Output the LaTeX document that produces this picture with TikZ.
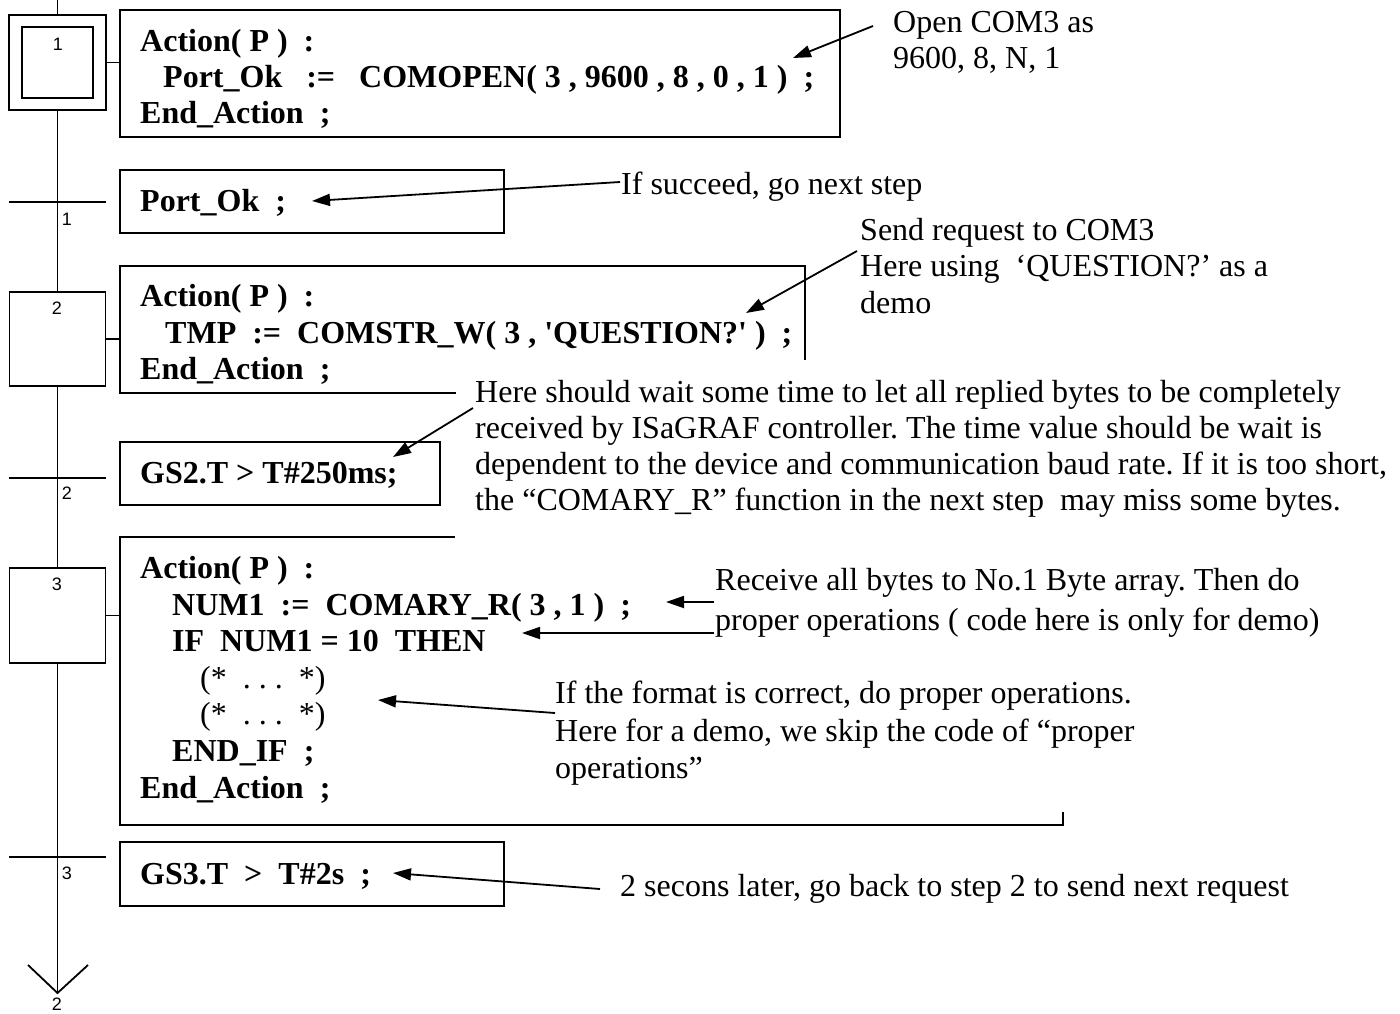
\documentclass[tikz,border=0pt]{standalone}
\usepackage{fontspec}
\setmainfont{Liberation Serif}
\setsansfont{Liberation Sans}
\newfontfamily\codefont{Liberation Serif}
\usetikzlibrary{arrows.meta}
\frenchspacing
\tikzset{
  ln/.style={line width=1.8pt},
  stepbox/.style={draw, line width=1.8pt, inner sep=0, minimum width=96pt, minimum height=94pt},
  tbox/.style={draw, line width=1.8pt, inner sep=0},
  code/.style={font=\codefont\bfseries\fontsize{32}{36}\selectfont, anchor=base west, inner sep=0},
  codep/.style={font=\codefont\fontsize{32}{36}\selectfont, anchor=base west, inner sep=0},
  cmt/.style={font=\fontsize{32}{36}\selectfont, anchor=base west, inner sep=0},
  lbl/.style={font=\sffamily\fontsize{18}{18}\selectfont, inner sep=0},
  arr/.style={line width=1.8pt, -{Triangle[length=18pt,width=12pt]}},
}
\begin{document}
\begin{tikzpicture}[x=1pt,y=-1pt]
\frenchspacing
\useasboundingbox (0,0) rectangle (1400,1013);
% steps
\node[stepbox, minimum width=97pt, minimum height=95pt] (s1o) at (57.5,62.5) {};
\node[stepbox, minimum width=71pt, minimum height=71pt] (s1i) at (57.5,62.5) {};
\node[stepbox] (s2) at (57.5,339) {};
\node[stepbox, minimum height=95pt] (s3) at (57.5,615.5) {};
\node[lbl] (l1) at (58,44) {1};
\node[lbl] (l2) at (57,308) {2};
\node[lbl] (l3) at (57,584) {3};
% main line
\coordinate (top) at (57.5,0);
\coordinate (tip) at (57.5,993);
\coordinate (vl) at (28,965);
\coordinate (vr) at (88,965);
\draw[ln] (top) -- (s1o.north);
\draw[ln] (s1o.south) -- (s2.north);
\draw[ln] (s2.south) -- (s3.north);
\draw[ln] (s3.south) -- (tip);
\draw[ln] (vl) -- (tip) -- (vr);
\node[lbl] (l4) at (57,1004) {2};
% transitions
\coordinate (t1a) at (9,202); \coordinate (t1b) at (106,202);
\coordinate (t2a) at (9,478); \coordinate (t2b) at (106,478);
\coordinate (t3a) at (9,857); \coordinate (t3b) at (106,857);
\draw[ln] (t1a) -- (t1b);
\draw[ln] (t2a) -- (t2b);
\draw[ln] (t3a) -- (t3b);
\node[lbl] (tl1) at (67,219) {1};
\node[lbl] (tl2) at (67,493) {2};
\node[lbl] (tl3) at (67,873) {3};
% action box 1
\node[tbox, minimum width=720pt, minimum height=127pt] (a1) at (480,73.5) {};
\draw[ln] (s1o.east) -- (s1o.east -| a1.west);
\node[code] (c1a) at (140,51) {Action( P )\ \ :};
\node[code] (c1b) at (163,87) {Port\_Ok\ \ \ :=\ \ \ COMOPEN( 3 , 9600 , 8 , 0 , 1 )\ \ ;};
\node[code] (c1c) at (140,123) {End\_Action\ \ ;};
% transition box 1
\node[tbox, minimum width=384pt, minimum height=63pt] (b1) at (312,201.5) {};
\node[code] (d1) at (140,211) {Port\_Ok\ \ ;};
% action box 2 (partial frame)
\coordinate (a2r) at (805,360); \coordinate (a2tr) at (805,266);
\coordinate (a2tl) at (120,266); \coordinate (a2bl) at (120,393);
\coordinate (a2br) at (456,393);
\draw[ln] (a2r) -- (a2tr) -- (a2tl) -- (a2bl) -- (a2br);
\draw[ln] (s2.east) -- (s2.east -| a2tl);
\node[code] (c2a) at (140,306) {Action( P )\ \ :};
\node[code] (c2b) at (165,343) {TMP\ \ :=\ \ COMSTR\_W( 3 , 'QUESTION?' )\ \ ;};
\node[code] (c2c) at (140,379) {End\_Action\ \ ;};
% transition box 2
\node[tbox, minimum width=320pt, minimum height=63pt] (b2) at (280,473.5) {};
\node[code] (d2) at (140,483) {GS2.T > T\#250ms;};
% action box 3 (partial frame)
\coordinate (a3tr) at (455,537); \coordinate (a3tl) at (120,537);
\coordinate (a3bl) at (120,825); \coordinate (a3br) at (1063,825);
\coordinate (a3k) at (1063,812);
\draw[ln] (a3tr) -- (a3tl) -- (a3bl) -- (a3br) -- (a3k);
\draw[ln] (s3.east) -- (s3.east -| a3tl);
\node[code] (c3a) at (140,578) {Action( P )\ \ :};
\node[code] (c3b) at (172,615) {NUM1\ \ :=\ \ COMARY\_R( 3 , 1 )\ \ ;};
\node[code] (c3c) at (172,651) {IF\ \ NUM1 = 10\ \ THEN};
\node[codep] (c3d) at (200,688) {(*\ \ . . .\ \ *)};
\node[codep] (c3e) at (200,724) {(*\ \ . . .\ \ *)};
\node[code] (c3f) at (172,761) {END\_IF\ \ ;};
\node[code] (c3g) at (140,798) {End\_Action\ \ ;};
% transition box 3
\node[tbox, minimum width=384pt, minimum height=64pt] (b3) at (312,874) {};
\node[code] (d3) at (140,884) {GS3.T\ \ >\ \ T\#2s\ \ ;};
% comments
\node[cmt] (m1a) at (893,32) {Open COM3 as};
\node[cmt] (m1b) at (893,68) {9600, 8, N, 1};
\node[cmt] (m2) at (621,194) {If succeed, go next step};
\node[cmt] (m3a) at (860,240) {Send request to COM3};
\node[cmt] (m3b) at (860,276) {Here using\ \ ‘QUESTION?’ as a};
\node[cmt] (m3c) at (860,313) {demo};
\node[cmt] (m4a) at (475,402) {Here should wait some time to let all replied bytes to be completely};
\node[cmt] (m4b) at (475,438) {received by ISaGRAF controller. The time value should be wait is};
\node[cmt] (m4c) at (475,474) {dependent to the device and communication baud rate. If it is too short,};
\node[cmt] (m4d) at (475,510) {the “COMARY\_R” function in the next step\ \ may miss some bytes.};
\node[cmt] (m5a) at (715,590) {Receive all bytes to No.1 Byte array. Then do};
\node[cmt] (m5b) at (715,630) {proper operations ( code here is only for demo)};
\node[cmt] (m6a) at (555,703) {If the format is correct, do proper operations.};
\node[cmt] (m6b) at (555,741) {Here for a demo, we skip the code of “proper};
\node[cmt] (m6c) at (555,778) {operations”};
\node[cmt] (m7) at (620,896) {2 secons later, go back to step 2 to send next request};
% arrows
\coordinate (p1s) at (873,26); \coordinate (p1t) at (793,58);
\draw[arr] (p1s) -- (p1t);
\coordinate (p2s) at (620,182); \coordinate (p2t) at (312,201);
\draw[arr] (p2s) -- (p2t);
\coordinate (p3s) at (857,251); \coordinate (p3t) at (746,313);
\draw[arr] (p3s) -- (p3t);
\coordinate (p4s) at (473,408); \coordinate (p4t) at (393,457);
\draw[arr] (p4s) -- (p4t);
\coordinate (p5s) at (714,602); \coordinate (p5t) at (666,602);
\draw[arr] (p5s) -- (p5t);
\coordinate (p6s) at (714,633); \coordinate (p6t) at (522,633);
\draw[arr] (p6s) -- (p6t);
\coordinate (p7s) at (555,713); \coordinate (p7t) at (378,700);
\draw[arr] (p7s) -- (p7t);
\coordinate (p8s) at (600,889); \coordinate (p8t) at (393,873);
\draw[arr] (p8s) -- (p8t);
\end{tikzpicture}
\end{document}
